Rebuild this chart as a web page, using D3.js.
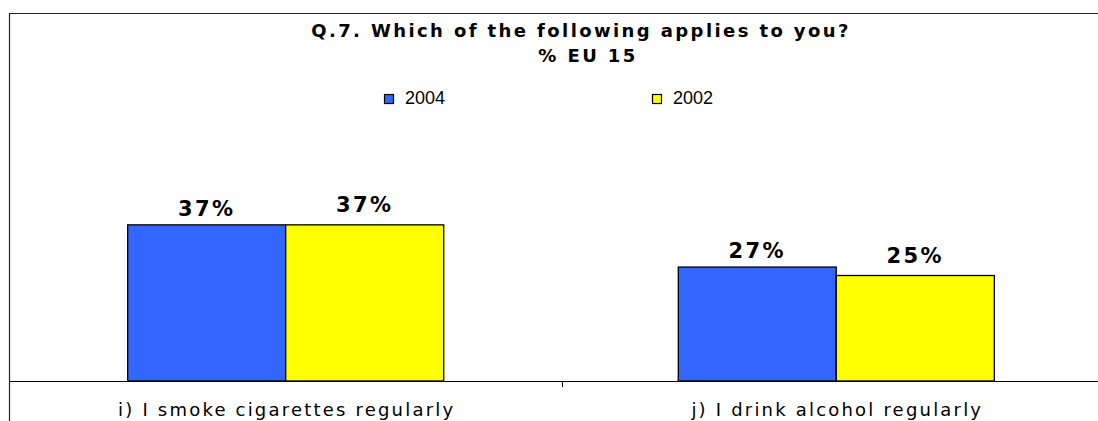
<!DOCTYPE html>
<html><head><meta charset="utf-8">
<script src="https://cdn.jsdelivr.net/npm/d3@7"></script>
<style>body{margin:0;background:#fff;}svg{display:block;}</style>
</head><body>
<script>
const categories = ["i) I smoke cigarettes regularly", "j) I drink alcohol regularly"];
const seriesNames = ["2004", "2002"];
const values2004 = [37, 27];
const values2002 = [37, 25];
const seriesColors = ["#3366ff", "#ffff00"];
const titleLines = ["Q.7. Which of the following applies to you?", "% EU 15"];

const W = 1098, H = 421;
const svg = d3.select("body").append("svg").attr("width", W).attr("height", H);
svg.append("rect").attr("width", W).attr("height", H).attr("fill", "#fff");

// frame
svg.append("path").attr("d", `M9.5,${H+5} L9.5,13.5 L${W+5},13.5`).attr("fill","none").attr("stroke","#222").attr("stroke-width",1.2);

const x0 = d3.scaleBand().domain(categories).range([10.4, 1111.6]).paddingInner(0.426).paddingOuter(0.213);
const x1 = d3.scaleBand().domain(seriesNames).range([0, x0.bandwidth()]);
const y = d3.scaleLinear().domain([0, 50]).range([381, 170]);
const labelGap = [9, 13];

const data = categories.map((c, i) => ({cat: c, vals: [values2004[i], values2002[i]]}));

const g = svg.append("g");
data.forEach(d => {
  d.vals.forEach((v, j) => {
    const bx = x0(d.cat) + x1(seriesNames[j]);
    g.append("rect").attr("x", bx).attr("y", y(v)).attr("width", x1.bandwidth()).attr("height", y(0) - y(v))
      .attr("fill", seriesColors[j]).attr("stroke", "#000").attr("stroke-width", 1.3);
    g.append("text").attr("x", bx + x1.bandwidth()/2).attr("y", y(v) - labelGap[j])
      .attr("text-anchor", "middle").attr("font-family", "DejaVu Sans").attr("font-weight", "bold")
      .attr("font-size", 21).attr("letter-spacing", 2.4).attr("fill", "#000").text(v + "%");
  });
});

// x axis
const ax = svg.append("g").attr("transform", "translate(0,381)").call(d3.axisBottom(x0).tickSize(0).tickFormat(""));
ax.select(".domain").remove();
svg.append("line").attr("x1", 9).attr("x2", W).attr("y1", 381.5).attr("y2", 381.5).attr("stroke", "#000");
svg.append("line").attr("x1", 562.5).attr("x2", 562.5).attr("y1", 381).attr("y2", 387).attr("stroke", "#000");
categories.forEach(c => {
  svg.append("text").attr("x", x0(c) + x0.bandwidth()/2 + 1).attr("y", 416)
    .attr("text-anchor", "middle").attr("font-family", "DejaVu Sans").attr("font-size", 18)
    .attr("letter-spacing", 2.2).attr("fill", "#000").text(c);
});

// title
const titleX = [581, 588];
const titleY = [37, 62];
titleLines.forEach((t, i) => {
  svg.append("text").attr("x", titleX[i]).attr("y", titleY[i]).attr("text-anchor", "middle")
    .attr("font-family", "DejaVu Sans").attr("font-weight", "bold").attr("font-size", 18)
    .attr("letter-spacing", 2.4).attr("fill", "#000").text(t);
});

// legend
const legX = [384, 652];
seriesNames.forEach((s, i) => {
  svg.append("rect").attr("x", legX[i] + 0.5).attr("y", 94.5).attr("width", 9).attr("height", 9)
    .attr("fill", seriesColors[i]).attr("stroke", "#000").attr("stroke-width", 1.2);
  svg.append("text").attr("x", legX[i] + 21).attr("y", 104).attr("font-family", "Liberation Sans, Arial")
    .attr("font-size", 18).attr("fill", "#000").text(s);
});
</script>
</body></html>
